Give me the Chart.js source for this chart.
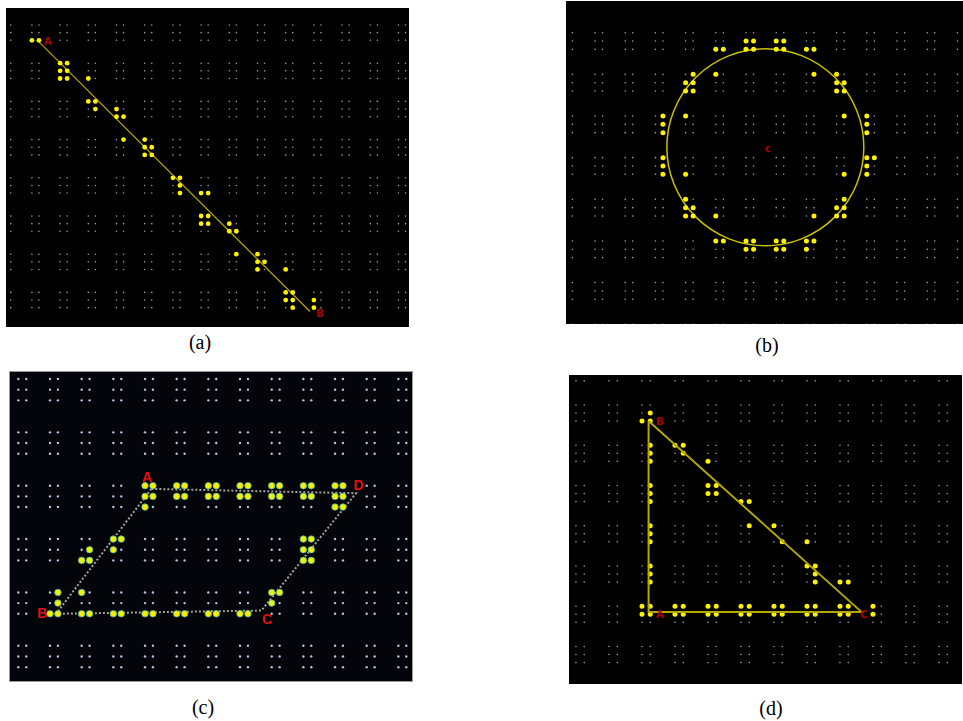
<!DOCTYPE html>
<html><head><meta charset="utf-8">
<script src="https://cdn.jsdelivr.net/npm/chart.js@4"></script>
<style>
html,body{margin:0;padding:0;background:#fff;width:963px;height:721px;overflow:hidden;position:relative}
.p{position:absolute}
.cap{position:absolute;font-family:"Liberation Serif","Times New Roman",serif;font-size:20px;line-height:20px;transform:translate(-50%,-50%);color:#000;white-space:nowrap}
</style></head><body>
<div class="p" style="left:6px;top:8px;width:403px;height:319px;background:#000"><canvas id="ca"></canvas></div>
<div class="p" style="left:566px;top:1px;width:397px;height:323px;background:#000"><canvas id="cb"></canvas></div>
<div class="p" style="left:10px;top:372px;width:402px;height:309px;background:#03050b;box-shadow:0 0 0 1px #9a9a9a"><canvas id="cc"></canvas></div>
<div class="p" style="left:569px;top:375px;width:393px;height:309px;background:#000"><canvas id="cd"></canvas></div>
<div class="cap" style="left:200px;top:342px">(a)</div>
<div class="cap" style="left:767px;top:345px">(b)</div>
<div class="cap" style="left:203px;top:707px">(c)</div>
<div class="cap" style="left:771px;top:708px">(d)</div>
<script>
// ---- grid cells (cell column / row indices) ----
const gridColsA = [0,1,2,3,4,5,6,7,8,9,10,11,12,13,14];
const gridRowsA = [0,1,2,3,4,5,6,7];
const gridColsB = [0,1,2,3,4,5,6,7,8,9,10,11,12,13];
const gridRowsB = [0,1,2,3,4,5,6,7];
const gridColsC = [0,1,2,3,4,5,6,7,8,9,10,11,12];
const gridRowsC = [0,1,2,3,4,5];
const gridColsD = [0,1,2,3,4,5,6,7,8,9,10,11];
const gridRowsD = [-1,0,1,2,3,4,5,6];

// ---- raised pins [dot column, dot row] ----
const pinsA = [[4,2],[5,2],[8,5],[9,5],[8,6],[9,6],[8,7],[9,7],[12,7],[12,10],[13,10],[13,11],[16,11],[16,12],[17,12],[17,15],[20,15],[20,16],[21,16],[20,17],[21,17],[24,20],[25,20],[25,21],[25,22],[28,22],[29,22],[28,25],[29,25],[28,26],[29,26],[32,26],[32,27],[33,27],[33,30],[36,30],[36,31],[37,31],[36,32],[40,32],[40,35],[41,35],[40,36],[41,36],[41,37],[44,36],[44,37]];
const pinsB = [[24,1],[25,1],[28,1],[29,1],[20,2],[21,2],[24,2],[25,2],[28,2],[29,2],[32,2],[33,2],[17,5],[20,5],[33,5],[36,5],[16,6],[17,6],[36,6],[37,6],[16,7],[17,7],[36,7],[37,7],[13,10],[16,10],[37,10],[40,10],[13,11],[40,11],[13,12],[40,12],[13,15],[40,15],[41,15],[13,16],[40,16],[13,17],[16,17],[37,17],[40,17],[16,20],[37,20],[16,21],[17,21],[36,21],[37,21],[16,22],[17,22],[20,22],[33,22],[36,22],[37,22],[20,25],[21,25],[24,25],[25,25],[28,25],[29,25],[32,25],[33,25],[24,26],[25,26],[28,26],[29,26],[32,26]];
const pinsC = [[16,10],[17,10],[16,11],[17,11],[16,12],[20,10],[21,10],[20,11],[21,11],[24,10],[25,10],[24,11],[25,11],[28,10],[29,10],[28,11],[29,11],[32,10],[33,10],[32,11],[33,11],[36,10],[37,10],[36,11],[37,11],[40,10],[41,10],[40,11],[41,11],[40,12],[41,12],[12,15],[13,15],[12,16],[9,16],[8,17],[9,17],[5,20],[5,21],[5,22],[4,22],[8,20],[8,22],[9,22],[12,22],[13,22],[16,22],[17,22],[20,22],[21,22],[24,22],[25,22],[28,22],[29,22],[32,20],[33,20],[32,21],[36,15],[37,15],[36,16],[37,16],[36,17],[37,17]];
const pinsD = [[9,1],[8,2],[9,2],[9,5],[12,5],[13,5],[9,6],[13,6],[9,7],[16,7],[9,10],[16,10],[17,10],[9,11],[16,11],[17,11],[9,12],[20,12],[21,12],[9,15],[21,15],[24,15],[9,16],[9,17],[25,17],[28,17],[9,20],[28,20],[29,20],[9,21],[29,21],[9,22],[29,22],[32,22],[33,22],[8,25],[9,25],[12,25],[13,25],[16,25],[17,25],[20,25],[21,25],[24,25],[25,25],[28,25],[29,25],[32,25],[33,25],[36,25],[8,26],[9,26],[12,26],[13,26],[16,26],[17,26],[20,26],[21,26],[24,26],[25,26],[28,26],[29,26],[32,26],[33,26],[36,26]];

// ---- drawn figures (vertices) ----
const lineA = [[5.0,2.2],[43.45,37.5]];
const circleB = [[26.56,13.75]];
const shapeC = [[16.8,10.3],[42.65,10.7],[30.7,21.7],[4.76,22.0],[16.8,10.3]];
const shapeD = [[8.8,2.0],[8.8,25.7],[34.6,25.7],[8.8,2.0]];

// ---- point labels ----
const labNamesA = ['A','B'];   const labXA = [6.3,44.9];  const labYA = [2.3,37.9];
const labNamesB = ['c'];       const labXB = [26.9];      const labYB = [14.0];
const labNamesC = ['A','B','C','D']; const labXC = [16.3,3.07,31.45,43.0]; const labYC = [9.3,22.06,22.6,10.0];
const labNamesD = ['B','A','C']; const labXD = [10.2,10.2,34.9]; const labYD = [2.15,26.1,26.1];

function gridPts(cols, rows){
  const out = [];
  cols.forEach(c => [0,1].forEach(d => rows.forEach(r => [0,1,2].forEach(e => out.push({x:4*c+d, y:5*r+e})))));
  return out;
}
const toXY = arr => arr.map(p => ({x:p[0], y:p[1]}));

function labelPlugin(names, xs, ys, font, color){
  return {
    id:'ptLabels',
    afterDatasetsDraw(chart){
      const ctx = chart.ctx, sx = chart.scales.x, sy = chart.scales.y;
      ctx.save();
      ctx.font = font; ctx.fillStyle = color; ctx.textAlign = 'center'; ctx.textBaseline = 'middle';
      names.forEach((n,i) => ctx.fillText(n, sx.getPixelForValue(xs[i]), sy.getPixelForValue(ys[i])));
      ctx.restore();
    }
  };
}

function makeChart(id, datasets, xr, yr, plugin){
  return new Chart(document.getElementById(id), {
    type:'scatter',
    data:{datasets},
    options:{
      responsive:true, maintainAspectRatio:false, animation:false, devicePixelRatio:1,
      layout:{padding:0, autoPadding:false},
      events:[],
      plugins:{legend:{display:false}, tooltip:{enabled:false}},
      scales:{
        x:{type:'linear', display:false, min:xr[0], max:xr[1]},
        y:{type:'linear', display:false, min:yr[0], max:yr[1], reverse:true}
      }
    },
    plugins:[plugin]
  });
}

const gridDS = (pts, color, r) => ({data:pts, pointRadius:r, pointBackgroundColor:color, pointBorderWidth:0, order:5});
const pinDS = (pts, color, r, border, bw, order) => ({data:toXY(pts), pointRadius:r, pointBackgroundColor:color, pointBorderColor:border, pointBorderWidth:bw, order});
const lineDS = (pts, color, w, dash, order) => ({data:toXY(pts), showLine:true, borderColor:color, borderWidth:w, borderDash:dash, pointRadius:0, fill:false, tension:0, order});

// (a)
makeChart('ca', [
  gridDS(gridPts(gridColsA, gridRowsA), '#9a9a9a', 0.8),
  lineDS(lineA, '#b8a800', 1.2, [], 2),
  pinDS(pinsA, '#fff200', 2.4, '#fff200', 0, 1)
], [0.326, 57.49], [-2.225, 39.53],
  labelPlugin(labNamesA, labXA, labYA, 'bold 10px "DejaVu Sans", sans-serif', '#b00000'));

// (b)
makeChart('cb', [
  gridDS(gridPts(gridColsB, gridRowsB), '#a0a0a0', 0.8),
  {data:toXY(circleB), pointRadius:98.5, pointBackgroundColor:'rgba(0,0,0,0)', pointBorderColor:'#c8c000', pointBorderWidth:1.5, order:2},
  pinDS(pinsB, '#fff200', 2.5, '#fff200', 0, 1)
], [0.159, 52.74], [-3.806, 34.97],
  labelPlugin(labNamesB, labXB, labYB, 'bold 10px "DejaVu Sans", sans-serif', '#b00000'));

// (c)
makeChart('cc', [
  gridDS(gridPts(gridColsC, gridRowsC), '#b4c2de', 1.2),
  lineDS(shapeC, 'rgba(190,190,175,0.85)', 2, [2,2], 2),
  pinDS(pinsC, '#f7ef00', 3.3, 'rgba(60,170,180,0.75)', 1, 1)
], [-1.052, 49.72], [-0.656, 28.3],
  labelPlugin(labNamesC, labXC, labYC, 'bold 14px "Liberation Sans", Arial, sans-serif', '#ee1010'));

// (d)
makeChart('cd', [
  gridDS(gridPts(gridColsD, gridRowsD), '#a0a0a0', 0.8),
  lineDS(shapeD, '#b4a800', 2, [], 1),
  pinDS(pinsD, '#fff200', 2.5, '#fff200', 0, 2)
], [-0.848, 46.79], [-3.727, 34.66],
  labelPlugin(labNamesD, labXD, labYD, 'bold 10px "DejaVu Sans", sans-serif', '#b00000'));
</script>
</body></html>
